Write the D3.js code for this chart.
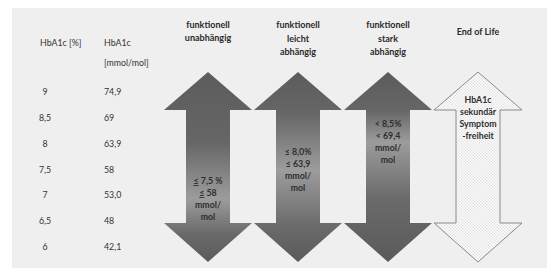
<!DOCTYPE html>
<html><head><meta charset="utf-8">
<script src="https://cdn.jsdelivr.net/npm/d3@7"></script>
<style>
html,body{margin:0;padding:0;background:#fff;}
svg{display:block;font-family:Lato,"Open Sans",sans-serif;}
</style></head>
<body>
<svg id="c" width="547" height="268"></svg>
<script>
// ---- data ----
const pctLabels  = ["9", "8,5", "8", "7,5", "7", "6,5", "6"];
const mmolLabels = ["74,9", "69", "63,9", "58", "53,0", "48", "42,1"];
const groups = ["funktionell unabhängig", "funktionell leicht abhängig", "funktionell stark abhängig", "End of Life"];
const groupHeaders = [
  ["funktionell", "unabhängig"],
  ["funktionell", "leicht", "abhängig"],
  ["funktionell", "stark", "abhängig"],
  ["End of Life"]
];
const targetTexts = [
  ["≤ 7,5 %", "≤ 58", "mmol/", "mol"],
  ["≤ 8,0%", "≤ 63,9", "mmol/", "mol"],
  ["< 8,5%", "< 69,4", "mmol/", "mol"],
  ["HbA1c", "sekundär", "Symptom", "-freiheit"]
];
const underlineFirst = [true, false, false, false];
const targetCenter = [199, 170, 142, 118];   // vertical centre of the target text block
const headerCenter = [31.5, 38.5, 38.5, 32];

// ---- scales ----
const svg = d3.select("#c");
const x = d3.scaleBand().domain(groups).range([163, 523]);
const y = d3.scalePoint().domain(pctLabels).range([92, 247]);

// background panel
svg.append("rect").attr("x", 12).attr("y", 8).attr("width", 535).attr("height", 260).attr("fill", "#efefef");

const defs = svg.append("defs");
// check pattern for End of Life arrow
const pat = defs.append("pattern").attr("id", "chk").attr("width", 3).attr("height", 3)
  .attr("patternUnits", "userSpaceOnUse");
pat.append("rect").attr("width", 3).attr("height", 3).attr("fill", "#ffffff");
pat.append("rect").attr("width", 1.5).attr("height", 1.5).attr("fill", "#e4e4e4");
pat.append("rect").attr("x", 1.5).attr("y", 1.5).attr("width", 1.5).attr("height", 1.5).attr("fill", "#e4e4e4");

// arrow geometry
const tipTop = 72, headTop = 110, headBot = 223, tipBot = 262;
const headHalf = 44, shaftHalf = 22;

groups.forEach((g, i) => {
  const cx = x(g) + x.bandwidth() / 2;
  let fill;
  if (i < 3) {
    const gid = "gr" + i;
    const lg = defs.append("linearGradient").attr("id", gid)
      .attr("gradientUnits", "userSpaceOnUse")
      .attr("x1", 0).attr("x2", 0).attr("y1", tipTop).attr("y2", tipBot);
    const c = (targetCenter[i] - tipTop) / (tipBot - tipTop);
    lg.append("stop").attr("offset", 0).attr("stop-color", "#5c5c5c");
    lg.append("stop").attr("offset", Math.max(0.2, c - 0.3)).attr("stop-color", "#666666");
    lg.append("stop").attr("offset", c).attr("stop-color", "#9c9c9c");
    lg.append("stop").attr("offset", Math.min(0.85, c + 0.3)).attr("stop-color", "#6a6a6a");
    lg.append("stop").attr("offset", 1).attr("stop-color", "#5a5a5a");
    fill = "url(#" + gid + ")";
  } else {
    fill = "url(#chk)";
  }
  const pts = [
    [cx, tipTop], [cx + headHalf, headTop], [cx + shaftHalf, headTop], [cx + shaftHalf, headBot],
    [cx + headHalf, headBot], [cx, tipBot], [cx - headHalf, headBot], [cx - shaftHalf, headBot],
    [cx - shaftHalf, headTop], [cx - headHalf, headTop]
  ];
  svg.append("path").attr("d", d3.line()(pts) + "Z")
    .attr("fill", fill)
    .attr("stroke", i < 3 ? "none" : "#8a8a8a").attr("stroke-width", 1);

  // header
  const hl = groupHeaders[i];
  const hs = 13.5;
  hl.forEach((t, k) => {
    svg.append("text").attr("x", cx).attr("y", headerCenter[i] + (k - (hl.length - 1) / 2) * hs)
      .attr("dy", "0.35em").attr("text-anchor", "middle")
      .attr("font-size", 9).attr("font-weight", "bold").attr("fill", "#2a2a2a").text(t);
  });

  // target text
  const tl = targetTexts[i];
  const ts = 12;
  tl.forEach((t, k) => {
    const tx = svg.append("text").attr("x", cx).attr("y", targetCenter[i] + (k - (tl.length - 1) / 2) * ts)
      .attr("dy", "0.35em").attr("text-anchor", "middle")
      .attr("font-size", 8.8).attr("font-weight", "bold").attr("fill", "#2e2e2e");
    if (underlineFirst[i] && k < 2) {
      tx.append("tspan").attr("text-decoration", "underline").text(t.charAt(0));
      tx.append("tspan").text(t.slice(1));
    } else {
      tx.text(t);
    }
  });
});

// table headers
svg.append("text").attr("x", 40).attr("y", 43).attr("dy", "0.35em").attr("font-size", 8.8).attr("fill", "#333").text("HbA1c [%]");
svg.append("text").attr("x", 104).attr("y", 43).attr("dy", "0.35em").attr("font-size", 8.8).attr("fill", "#333").text("HbA1c");
svg.append("text").attr("x", 104).attr("y", 63).attr("dy", "0.35em").attr("font-size", 8.8).attr("fill", "#333").text("[mmol/mol]");

// table rows
pctLabels.forEach((p, k) => {
  svg.append("text").attr("x", 45).attr("y", y(p)).attr("dy", "0.35em").attr("text-anchor", "middle")
    .attr("font-size", 8.8).attr("fill", "#333").text(p);
  svg.append("text").attr("x", 104).attr("y", y(p)).attr("dy", "0.35em")
    .attr("font-size", 8.8).attr("fill", "#333").text(mmolLabels[k]);
});
</script>
</body></html>
